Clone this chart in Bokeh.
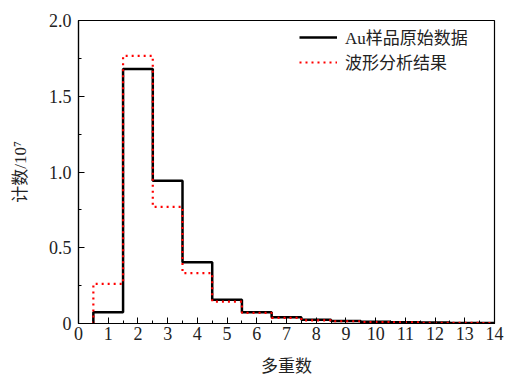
from bokeh.plotting import figure
from bokeh.models import SingleIntervalTicker, Legend, LegendItem, Range1d
from bokeh.embed import file_html
from bokeh.resources import INLINE

# multiplicity bins
multiplicity = [1, 2, 3, 4, 5, 6, 7, 8, 9, 10, 11, 12, 13, 14]
# counts / 1e7
au_raw = [0.075, 1.68, 0.943, 0.405, 0.157, 0.075, 0.042, 0.024, 0.017, 0.011, 0.008, 0.006, 0.004, 0.003]
wave_fit = [0.262, 1.767, 0.770, 0.333, 0.145, 0.070, 0.037, 0.021, 0.015, 0.010, 0.007, 0.005, 0.004, 0.003]

x_ticks = list(range(0, 15))
y_ticks = [0, 0.5, 1.0, 1.5, 2.0]

def step_path(centers, vals):
    xs = [centers[0] - 0.5]
    ys = [0]
    for c, v in zip(centers, vals):
        xs += [c - 0.5, c + 0.5]
        ys += [v, v]
    return xs, ys

SERIF = "'Liberation Serif', 'Noto Sans CJK SC', serif"

p = figure(width=505, height=379, output_backend="svg", toolbar_location=None,
           x_range=Range1d(0, 14), y_range=Range1d(0, 2.0))
p.min_border_left = 78
p.min_border_right = 11
p.min_border_top = 20
p.min_border_bottom = 56
p.grid.visible = False
p.outline_line_color = "black"
p.outline_line_width = 1.2
p.background_fill_color = "white"
p.border_fill_color = "white"

xs1, ys1 = step_path(multiplicity, au_raw)
xs2, ys2 = step_path(multiplicity, wave_fit)
r1 = p.line(xs1, ys1, line_color="black", line_width=2.5)
r2 = p.line(xs2, ys2, line_color="red", line_width=2.2, line_dash="2 4")

p.xaxis.ticker = SingleIntervalTicker(interval=1, num_minor_ticks=2)
p.yaxis.ticker = SingleIntervalTicker(interval=0.5, num_minor_ticks=2)
p.yaxis.major_label_overrides = {0: "0", 0.5: "0.5", 1: "1.0", 1.5: "1.5", 2: "2.0"}

for ax in (p.xaxis[0], p.yaxis[0]):
    ax.major_tick_in = 6
    ax.major_tick_out = 0
    ax.minor_tick_in = 3
    ax.minor_tick_out = 0
    ax.axis_line_color = "black"
    ax.axis_line_width = 1.2
    ax.major_tick_line_color = "black"
    ax.minor_tick_line_color = "black"
    ax.major_label_text_font = SERIF
    ax.major_label_text_font_size = "18px"
    ax.major_label_text_color = "#222222"
    ax.axis_label_text_font = SERIF
    ax.axis_label_text_font_size = "17px"
    ax.axis_label_text_font_style = "normal"
    ax.axis_label_text_color = "#222222"

p.xaxis.axis_label = "多重数"
p.yaxis.axis_label = "计数/10⁷"
p.xaxis.major_label_standoff = 3
p.yaxis.major_label_standoff = 7
p.xaxis.axis_label_standoff = 14
p.yaxis.axis_label_standoff = 16

legend = Legend(items=[LegendItem(label="Au样品原始数据", renderers=[r1]),
                       LegendItem(label="波形分析结果", renderers=[r2])],
                location="top_right")
legend.border_line_color = None
legend.background_fill_alpha = 0
legend.label_text_font = SERIF
legend.label_text_font_size = "17px"
legend.label_text_color = "#222222"
legend.glyph_width = 38
legend.label_width = 145
legend.label_standoff = 8
legend.spacing = 0
legend.margin = 4
legend.padding = 2
p.add_layout(legend)

open("out.html", "w").write(file_html(p, INLINE))
